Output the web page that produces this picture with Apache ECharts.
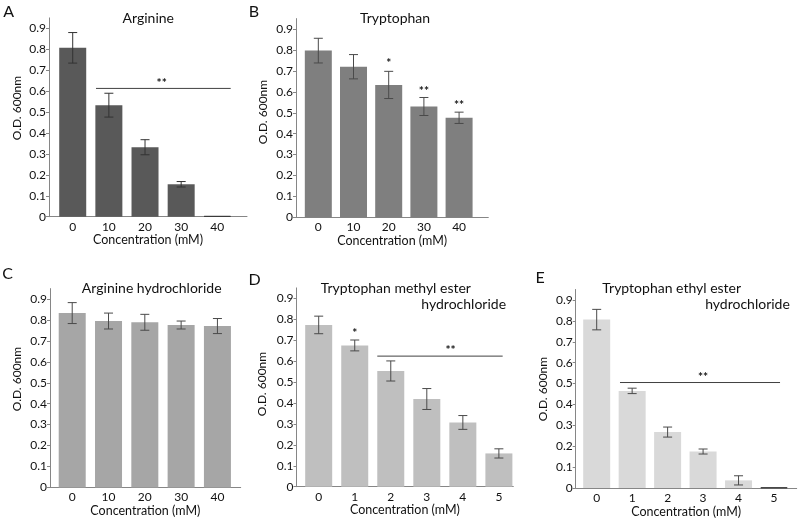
<!DOCTYPE html>
<html>
<head>
<meta charset="utf-8">
<script src="https://cdn.jsdelivr.net/npm/echarts@6/dist/echarts.min.js"></script>
<style>
  html, body { margin: 0; padding: 0; background: #ffffff; }
  #chart { width: 800px; height: 519px; }
</style>
</head>
<body>
<div id="chart"></div>
<script>
// ---------------- DATA ----------------
const concMM40 = ['0', '10', '20', '30', '40'];
const concMM5 = ['0', '1', '2', '3', '4', '5'];
const yTickLabels = ['0', '0.1', '0.2', '0.3', '0.4', '0.5', '0.6', '0.7', '0.8', '0.9'];

const arginineMean = [0.807, 0.533, 0.332, 0.155, 0.003];
const arginineErr = [0.073, 0.057, 0.036, 0.013, 0];

const tryptophanMean = [0.797, 0.72, 0.633, 0.53, 0.476];
const tryptophanErr = [0.059, 0.058, 0.065, 0.043, 0.027];

const argHclMean = [0.833, 0.795, 0.789, 0.776, 0.771];
const argHclErr = [0.05, 0.038, 0.038, 0.019, 0.036];

const trpMethylMean = [0.773, 0.675, 0.553, 0.419, 0.307, 0.159];
const trpMethylErr = [0.042, 0.026, 0.048, 0.05, 0.033, 0.022];

const trpEthylMean = [0.806, 0.465, 0.268, 0.175, 0.037, 0.003];
const trpEthylErr = [0.049, 0.013, 0.024, 0.012, 0.022, 0];

// significance bars: [xStart, xEnd, y]  and stars: [x, y]
const sigLinesA = [[0.644, 4.37, 0.613]];
const sigStarsA = [[2.46, 0.645]];
const sigStarTextA = ['**'];

const sigLinesB = [];
const sigStarsB = [[2, 0.742], [3, 0.61], [4, 0.54]];
const sigStarTextB = ['*', '**', '**'];

const sigLinesC = [];
const sigStarsC = [];
const sigStarTextC = [];

const sigLinesD = [[1.626, 5.105, 0.624]];
const sigStarsD = [[1, 0.741], [3.66, 0.658]];
const sigStarTextD = ['*', '**'];

const sigLinesE = [[0.657, 5.17, 0.505]];
const sigStarsE = [[3.0, 0.537]];
const sigStarTextE = ['**'];

const panelLetters = ['A', 'B', 'C', 'D', 'E'];
const yAxisTitle = 'O.D. 600nm';
const xAxisTitle = 'Concentration (mM)';

// ---------------- LAYOUT / STYLE ----------------
const FONT = 'Lato, "Open Sans", sans-serif';
const TXT = '#111111';
const AXIS = '#868686';
const ERR = '#4a4a4a';
const FS = 12;

const panels = [
  { cats: concMM40, mean: arginineMean, err: arginineErr, lines: sigLinesA, stars: sigStarsA, starText: sigStarTextA,
    color: '#595959', errColor: '#333333',
    grid: { left: 49, top: 17.9, width: 198, height: 198.8 }, xmin: -0.656, xmax: 4.821,
    title: [['Arginine', 148.3, 18.5]], letter: [8.7, 12.3], yname: [17.5, 108] },
  { cats: concMM40, mean: tryptophanMean, err: tryptophanErr, lines: sigLinesB, stars: sigStarsB, starText: sigStarTextB,
    color: '#7f7f7f', errColor: ERR,
    grid: { left: 296, top: 18.6, width: 192.3, height: 198.8 }, xmin: -0.634, xmax: 4.83,
    title: [['Tryptophan', 395, 18.5]], letter: [254, 11.5], yname: [263.5, 112] },
  { cats: concMM40, mean: argHclMean, err: argHclErr, lines: sigLinesC, stars: sigStarsC, starText: sigStarTextC,
    color: '#a6a6a6', errColor: ERR,
    grid: { left: 50, top: 288.6, width: 190.7, height: 198.8 }, xmin: -0.612, xmax: 4.641,
    title: [['Arginine hydrochloride', 151.7, 288.5]], letter: [7.7, 274], yname: [17.5, 379] },
  { cats: concMM5, mean: trpMethylMean, err: trpMethylErr, lines: sigLinesD, stars: sigStarsD, starText: sigStarTextD,
    color: '#bfbfbf', errColor: ERR,
    grid: { left: 296.5, top: 287.9, width: 216.8, height: 198.8 }, xmin: -0.616, xmax: 5.40,
    title: [['Tryptophan methyl ester', 395.8, 288.5], ['hydrochloride', 463.7, 304]], letter: [254.7, 280], yname: [262.5, 384] },
  { cats: concMM5, mean: trpEthylMean, err: trpEthylErr, lines: sigLinesE, stars: sigStarsE, starText: sigStarTextE,
    color: '#d9d9d9', errColor: ERR,
    grid: { left: 575.7, top: 289.5, width: 221, height: 198.8 }, xmin: -0.592, xmax: 5.64,
    title: [['Tryptophan ethyl ester', 671.7, 288.5], ['hydrochloride', 747.5, 304]], letter: [540, 278], yname: [543, 389] }
];

const yTickValues = yTickLabels.map(s => parseFloat(s));

const grids = [], xAxes = [], yAxes = [], series = [], graphics = [];

panels.forEach((p, k) => {
  grids.push(Object.assign({}, p.grid));
  const idx = p.cats.map((c, i) => i);
  xAxes.push({
    type: 'value', gridIndex: k, min: p.xmin, max: p.xmax,
    splitLine: { show: false },
    axisLine: { show: true, onZero: false, lineStyle: { color: AXIS, width: 1 } },
    axisTick: { show: false },
    axisLabel: {
      customValues: idx, margin: 4,
      formatter: v => p.cats[Math.round(v)],
      color: TXT, fontFamily: FONT, fontSize: FS
    },
    name: xAxisTitle, nameLocation: 'middle', nameGap: 15,
    nameTextStyle: { color: TXT, fontFamily: FONT, fontSize: 12.5 }
  });
  yAxes.push({
    type: 'value', gridIndex: k, min: 0, max: 0.95,
    splitLine: { show: false },
    axisLine: { show: true, onZero: false, lineStyle: { color: AXIS, width: 1 } },
    axisTick: { show: true, customValues: yTickValues, length: 3, lineStyle: { color: AXIS } },
    axisLabel: {
      customValues: yTickValues, margin: 3,
      formatter: v => yTickLabels[Math.round(v * 10)],
      color: TXT, fontFamily: FONT, fontSize: FS
    }
  });

  series.push({
    type: 'bar', xAxisIndex: k, yAxisIndex: k, barWidth: 27,
    itemStyle: { color: p.color },
    data: p.mean.map((v, i) => v < 0.01
      ? { value: [i, v], itemStyle: { borderColor: '#3a3a3a', borderWidth: 1 } }
      : { value: [i, v] }),
    animation: false, silent: true
  });

  series.push({
    type: 'custom', xAxisIndex: k, yAxisIndex: k,
    data: p.mean.map((v, i) => [i, v, p.err[i]]),
    renderItem: (params, api) => {
      const e = api.value(2);
      if (!e) return null;
      const x = api.value(0), y = api.value(1);
      const hi = api.coord([x, y + e]);
      const lo = api.coord([x, y - e]);
      const hw = 4.5;
      const st = { stroke: p.errColor, lineWidth: 1 };
      return {
        type: 'group', children: [
          { type: 'line', shape: { x1: hi[0], y1: hi[1], x2: lo[0], y2: lo[1] }, style: st },
          { type: 'line', shape: { x1: hi[0] - hw, y1: hi[1], x2: hi[0] + hw, y2: hi[1] }, style: st },
          { type: 'line', shape: { x1: lo[0] - hw, y1: lo[1], x2: lo[0] + hw, y2: lo[1] }, style: st }
        ]
      };
    },
    z: 3, animation: false, silent: true
  });

  if (p.lines.length) {
    series.push({
      type: 'custom', xAxisIndex: k, yAxisIndex: k,
      data: p.lines,
      renderItem: (params, api) => {
        const a = api.coord([api.value(0), api.value(2)]);
        const b = api.coord([api.value(1), api.value(2)]);
        return { type: 'line', shape: { x1: a[0], y1: a[1], x2: b[0], y2: b[1] }, style: { stroke: '#404040', lineWidth: 1 } };
      },
      z: 3, animation: false, silent: true
    });
  }
  if (p.stars.length) {
    series.push({
      type: 'custom', xAxisIndex: k, yAxisIndex: k,
      data: p.stars,
      renderItem: (params, api) => {
        const c = api.coord([api.value(0), api.value(1)]);
        return {
          type: 'text', x: c[0], y: c[1] + 1,
          style: { text: p.starText[params.dataIndex], font: 'bold 12px ' + FONT, fill: TXT,
                   textAlign: 'center', textVerticalAlign: 'middle', align: 'center', verticalAlign: 'middle' }
        };
      },
      z: 4, animation: false, silent: true
    });
  }

  p.title.forEach(t => {
    graphics.push({ type: 'text', x: t[1], y: t[2],
      style: { text: t[0], font: '14px ' + FONT, fill: TXT, textAlign: 'center', textVerticalAlign: 'middle', align: 'center', verticalAlign: 'middle' } });
  });
  graphics.push({ type: 'text', x: p.letter[0], y: p.letter[1],
    style: { text: panelLetters[k], font: '16px ' + FONT, fill: TXT, textAlign: 'center', textVerticalAlign: 'middle', align: 'center', verticalAlign: 'middle' } });
  graphics.push({ type: 'text', x: p.yname[0], y: p.yname[1], rotation: Math.PI / 2,
    style: { text: yAxisTitle, font: FS + 'px ' + FONT, fill: TXT, textAlign: 'center', textVerticalAlign: 'middle', align: 'center', verticalAlign: 'middle' } });
});

const chart = echarts.init(document.getElementById('chart'), null, { renderer: 'canvas' });
chart.setOption({
  backgroundColor: '#ffffff',
  animation: false,
  grid: grids,
  xAxis: xAxes,
  yAxis: yAxes,
  series: series,
  graphic: graphics
});
</script>
</body>
</html>
